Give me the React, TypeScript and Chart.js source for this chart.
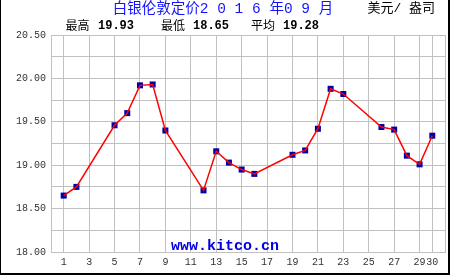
import React, { useEffect, useRef } from "react";
import { Chart, registerables } from "chart.js";

Chart.register(...registerables);

const days = [1, 2, 5, 6, 7, 8, 9, 12, 13, 14, 15, 16, 19, 20, 21, 22, 23, 26, 27, 28, 29, 30];
const prices = [18.65, 18.75, 19.46, 19.6, 19.92, 19.93, 19.4, 18.71, 19.16, 19.03, 18.95, 18.9, 19.12, 19.17, 19.42, 19.88, 19.82, 19.44, 19.41, 19.11, 19.01, 19.34];
const xTickValues = [1, 3, 5, 7, 9, 11, 13, 15, 17, 19, 21, 23, 25, 27, 29, 30, 31];
const titleText = "白银伦敦定价2 0 1 6 年0 9 月";
const unitText = "美元/ 盎司";
const statLabels = ["最高", "最低", "平均"];
const siteText = "www.kitco.cn";

const W = 450;
const H = 275;

export default function App() {
  const ref = useRef<HTMLCanvasElement | null>(null);

  useEffect(() => {
    const canvas = ref.current;
    if (!canvas) return;
    const maxV = Math.max(...prices);
    const minV = Math.min(...prices);
    const avgV = prices.reduce((a, b) => a + b, 0) / prices.length;
    const statValues = [maxV, minV, avgV].map((v) => v.toFixed(2));

    const points = days.map((d, i) => ({ x: d, y: prices[i] }));

    const decor = {
      id: "decor",
      afterDraw(chart: any) {
        const ctx = chart.ctx;
        ctx.save();
        // title
        ctx.fillStyle = "#1414ff";
        ctx.font = "14.5px 'Liberation Mono', 'Noto Sans CJK SC'";
        ctx.textAlign = "center";
        ctx.textBaseline = "middle";
        ctx.fillText(titleText, 223, 9.5);
        // unit
        ctx.fillStyle = "#000";
        ctx.font = "13px 'Liberation Mono', 'Noto Sans CJK SC'";
        ctx.textAlign = "left";
        ctx.fillText(unitText, 367.5, 9);
        // stats
        const labelX = [65.5, 161, 251];
        const numX = [98, 193, 283];
        for (let i = 0; i < 3; i++) {
          ctx.font = "12px 'Noto Sans CJK SC'";
          ctx.fillStyle = "#000";
          ctx.fillText(statLabels[i], labelX[i], 25);
          ctx.font = "bold 12px 'Liberation Mono'";
          ctx.fillText(statValues[i], numX[i], 25.5);
        }
        // site
        ctx.fillStyle = "#0000e0";
        ctx.font = "bold 15px 'Liberation Mono'";
        ctx.textBaseline = "alphabetic";
        ctx.fillText(siteText, 171, 250);
        // frame
        ctx.fillStyle = "#000";
        ctx.fillRect(0, 0, 1, H);
        ctx.fillRect(448, 0, 2, H);
        ctx.fillRect(0, 273, W, 2);
        ctx.restore();
      },
    };

    const tickFont = { family: "'Liberation Mono', monospace", size: 10 };

    const chart = new Chart(canvas, {
      type: "line",
      data: {
        datasets: [
          {
            data: points,
            borderColor: "#ff0000",
            borderWidth: 1.5,
            pointRadius: 0,
            tension: 0,
            order: 1,
          },
          {
            data: points,
            showLine: false,
            pointStyle: "rect",
            pointRadius: 4.25,
            pointBorderWidth: 0,
            pointBackgroundColor: "#0000aa",
            order: 2,
          },
        ],
      },
      options: {
        animation: false,
        responsive: false,
        devicePixelRatio: 1,
        layout: { padding: { left: 0, top: 35, right: 5, bottom: 0 } },
        plugins: { legend: { display: false }, tooltip: { enabled: false }, title: { display: false } },
        scales: {
          x: {
            type: "linear",
            min: 0,
            max: 31,
            afterBuildTicks: (scale: any) => {
              scale.ticks = xTickValues.map((v) => ({ value: v }));
            },
            afterFit: (scale: any) => {
              scale.height = 23;
            },
            ticks: {
              autoSkip: false,
              maxRotation: 0,
              padding: 4,
              color: "#333",
              font: tickFont,
              callback: (v: any) => (v === 31 ? "" : String(v)),
            },
            grid: { color: "#c0c0c0", drawTicks: false, lineWidth: 1 },
            border: { color: "#c0c0c0" },
          },
          y: {
            min: 18,
            max: 20.5,
            afterFit: (scale: any) => {
              scale.width = 51;
            },
            ticks: {
              stepSize: 0.25,
              padding: 5,
              color: "#333",
              font: tickFont,
              callback: (v: any) => (Math.abs(v * 2 - Math.round(v * 2)) < 1e-6 ? Number(v).toFixed(2) : ""),
            },
            grid: { color: "#c0c0c0", drawTicks: false, lineWidth: 1 },
            border: { color: "#c0c0c0" },
          },
        },
      },
      plugins: [decor],
    } as any);
    return () => chart.destroy();
  }, []);

  return (
    <div style={{ position: "fixed", left: 0, top: 0, width: W, height: H, background: "#fff" }}>
      <canvas ref={ref} width={W} height={H} style={{ width: W, height: H, display: "block" }} />
    </div>
  );
}
